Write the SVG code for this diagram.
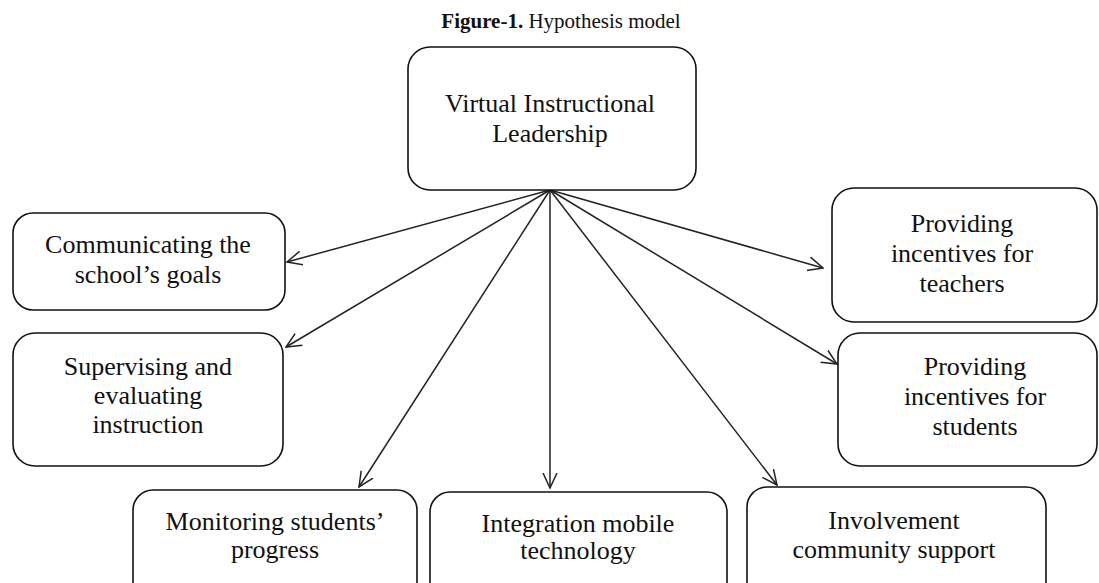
<svg xmlns="http://www.w3.org/2000/svg" width="1099" height="583" viewBox="0 0 1099 583">
<defs>
<style>
.box{fill:#fff;stroke:#111;stroke-width:1.6}
.t{font-family:"Liberation Serif","Times New Roman",serif;font-size:26px;fill:#111;text-anchor:middle}
.title{font-family:"Liberation Serif","Times New Roman",serif;font-size:21px;fill:#111;text-anchor:middle}
.c{stroke:#222;stroke-width:1.5;fill:none;marker-end:url(#arr)}
</style>
<marker id="arr" viewBox="0 0 16 16" refX="15" refY="8" markerWidth="16" markerHeight="16" markerUnits="userSpaceOnUse" orient="auto">
<path d="M0,1 L15,8 L0,15" fill="none" stroke="#222" stroke-width="1.5"/>
</marker>
</defs>
<rect width="1099" height="583" fill="#fff"/>
<text class="title" x="561" y="28"><tspan font-weight="bold">Figure-1.</tspan> Hypothesis model</text>

<g id="connectors">
<line class="c" x1="550" y1="190" x2="287" y2="262"/>
<line class="c" x1="550" y1="190" x2="286" y2="347"/>
<line class="c" x1="550" y1="190" x2="359" y2="487"/>
<line class="c" x1="550" y1="190" x2="550" y2="488"/>
<line class="c" x1="550" y1="190" x2="777" y2="485"/>
<line class="c" x1="550" y1="190" x2="837" y2="364"/>
<line class="c" x1="550" y1="190" x2="823" y2="268"/>
</g>

<g id="node-virtual">
<rect class="box" x="408" y="47" width="288" height="143" rx="22"/>
<text class="t" x="550" y="112">Virtual Instructional</text>
<text class="t" x="550" y="142">Leadership</text>
</g>

<g id="node-communicating">
<rect class="box" x="13" y="213" width="272" height="97" rx="20"/>
<text class="t" x="148" y="253">Communicating the</text>
<text class="t" x="148" y="283">school’s goals</text>
</g>

<g id="node-supervising">
<rect class="box" x="13" y="333" width="270" height="133" rx="22"/>
<text class="t" x="148" y="375">Supervising and</text>
<text class="t" x="148" y="404">evaluating</text>
<text class="t" x="148" y="433">instruction</text>
</g>

<g id="node-teachers">
<rect class="box" x="832" y="188" width="265" height="134" rx="22"/>
<text class="t" x="962" y="232">Providing</text>
<text class="t" x="962" y="262">incentives for</text>
<text class="t" x="962" y="292">teachers</text>
</g>

<g id="node-students">
<rect class="box" x="838" y="333" width="259" height="133" rx="22"/>
<text class="t" x="975" y="375">Providing</text>
<text class="t" x="975" y="405">incentives for</text>
<text class="t" x="975" y="435">students</text>
</g>

<g id="node-monitoring">
<rect class="box" x="133" y="490" width="284" height="120" rx="20"/>
<text class="t" x="275" y="530">Monitoring students’</text>
<text class="t" x="275" y="558">progress</text>
</g>

<g id="node-integration">
<rect class="box" x="430" y="492" width="297" height="120" rx="20"/>
<text class="t" x="578" y="532">Integration mobile</text>
<text class="t" x="578" y="559">technology</text>
</g>

<g id="node-involvement">
<rect class="box" x="747" y="487" width="299" height="120" rx="20"/>
<text class="t" x="894" y="529">Involvement</text>
<text class="t" x="894" y="558">community support</text>
</g>
</svg>
